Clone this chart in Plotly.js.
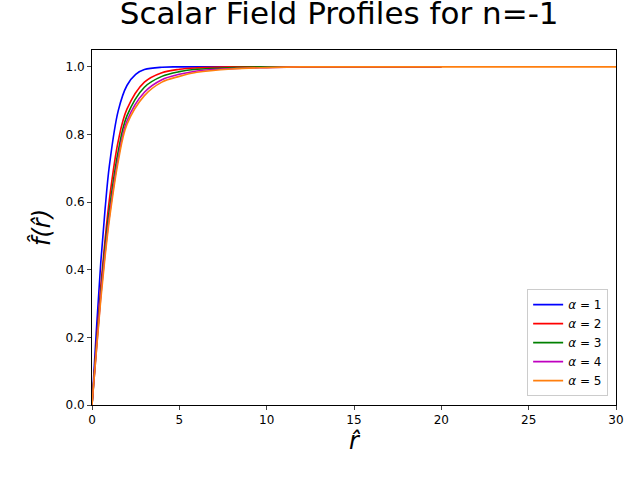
<html><head><script src="https://cdn.plot.ly/plotly-3.0.1.min.js"></script></head><body style="margin:0">
<div id="c" style="width:640px;height:480px"></div>
<script>
const r1=[0,0.25,0.5,0.75,1,1.5,2,2.5,3,4,5,10,20];
const f1=[0,0.22,0.42,0.58,0.71,0.87,0.945,0.978,0.992,0.999,1,1,1];
const r2=[0,0.25,0.5,0.75,1,1.5,2,3,4,5,6,8,10,20];
const f2=[0,0.18,0.35,0.49,0.61,0.78,0.875,0.955,0.983,0.993,0.997,1,1,1];
const r3=[0,0.25,0.5,0.75,1,1.5,2,3,4,5,6,8,10,20];
const f3=[0,0.17,0.33,0.47,0.58,0.75,0.855,0.94,0.972,0.986,0.993,0.998,1,1];
const r4=[0,0.25,0.5,0.75,1,1.5,2,3,4,5,6,8,10,12,20];
const f4=[0,0.16,0.32,0.45,0.56,0.73,0.84,0.925,0.962,0.978,0.988,0.995,0.998,1,1];
const r5=[0,0.25,0.5,0.75,1,1.5,2,3,4,5,6,8,10,12,30];
const f5=[0,0.16,0.31,0.44,0.55,0.72,0.83,0.915,0.955,0.972,0.984,0.994,0.998,1,1];
const names=['<i>α</i> = 1','<i>α</i> = 2','<i>α</i> = 3','<i>α</i> = 4','<i>α</i> = 5'];
const cols=['#0000ff','#ff0000','#008000','#bf00bf','#ff7f0e'];
const R=[r1,r2,r3,r4,r5],F=[f1,f2,f3,f4,f5];
const data=R.map((r,i)=>({x:r,y:F[i],mode:'lines',name:names[i],line:{color:cols[i],width:1.6,shape:'spline'}}));
Plotly.newPlot('c',data,{
 width:640,height:480,margin:{l:92,r:24,t:50,b:75},
 font:{family:'DejaVu Sans',size:12,color:'#000'},
 title:{text:'Scalar Field Profiles for n=-1',font:{size:31},x:0.53,y:0.995,yanchor:'top'},
 xaxis:{range:[0,30],tickvals:[0,5,10,15,20,25,30],showgrid:false,zeroline:false,showline:true,mirror:true,linecolor:'#000',ticks:'outside',ticklen:4,
  title:{text:'<i>r̂</i>',font:{size:24},standoff:4}},
 yaxis:{range:[0,1.05],tickvals:[0,0.2,0.4,0.6,0.8,1.0],tickformat:'.1f',showgrid:false,zeroline:false,showline:true,mirror:true,linecolor:'#000',ticks:'outside',ticklen:4,
  title:{text:'<i>f̂(r̂)</i>',font:{size:24},standoff:8}},
 legend:{x:0.985,y:0.025,xanchor:'right',yanchor:'bottom',bordercolor:'#ccc',borderwidth:1,bgcolor:'#fff',font:{size:12}},
 plot_bgcolor:'#fff',paper_bgcolor:'#fff'
},{displayModeBar:false});
</script></body></html>
